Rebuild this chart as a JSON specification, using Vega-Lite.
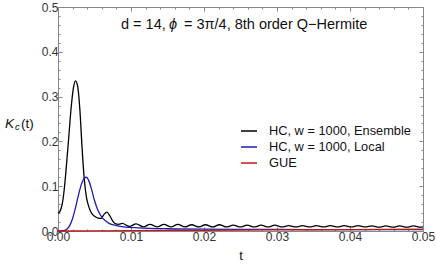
{
  "$schema": "https://vega.github.io/schema/vega-lite/v6.json",
  "width": 365,
  "height": 224,
  "autosize": {"type": "none"},
  "padding": {"left": 58, "top": 7, "right": 13, "bottom": 40},
  "background": "white",
  "config": {
    "view": {"stroke": "#888", "strokeWidth": 1},
    "font": "Liberation Sans",
    "axis": {"domain": false, "grid": false, "tickColor": "#888", "labelColor": "#333", "labelFont": "Liberation Sans", "labelFontSize": 12, "titleFont": "Liberation Sans", "titleFontWeight": "normal", "titleColor": "#111"},
    "legend": {"labelFont": "Liberation Sans", "labelFontSize": 12.8, "labelColor": "#111"}
  },
  "datasets": {
    "curves": [
      {"t": 0.0, "K": 0.040, "s": "HC, w = 1000, Ensemble"},
      {"t": 0.0003, "K": 0.045, "s": "HC, w = 1000, Ensemble"},
      {"t": 0.0006, "K": 0.062, "s": "HC, w = 1000, Ensemble"},
      {"t": 0.0009, "K": 0.100, "s": "HC, w = 1000, Ensemble"},
      {"t": 0.0012, "K": 0.155, "s": "HC, w = 1000, Ensemble"},
      {"t": 0.0015, "K": 0.215, "s": "HC, w = 1000, Ensemble"},
      {"t": 0.0018, "K": 0.275, "s": "HC, w = 1000, Ensemble"},
      {"t": 0.0021, "K": 0.318, "s": "HC, w = 1000, Ensemble"},
      {"t": 0.0024, "K": 0.335, "s": "HC, w = 1000, Ensemble"},
      {"t": 0.0027, "K": 0.322, "s": "HC, w = 1000, Ensemble"},
      {"t": 0.0030, "K": 0.270, "s": "HC, w = 1000, Ensemble"},
      {"t": 0.0033, "K": 0.185, "s": "HC, w = 1000, Ensemble"},
      {"t": 0.0036, "K": 0.115, "s": "HC, w = 1000, Ensemble"},
      {"t": 0.0039, "K": 0.075, "s": "HC, w = 1000, Ensemble"},
      {"t": 0.0042, "K": 0.055, "s": "HC, w = 1000, Ensemble"},
      {"t": 0.0046, "K": 0.040, "s": "HC, w = 1000, Ensemble"},
      {"t": 0.0050, "K": 0.033, "s": "HC, w = 1000, Ensemble"},
      {"t": 0.0055, "K": 0.029, "s": "HC, w = 1000, Ensemble"},
      {"t": 0.0059, "K": 0.028, "s": "HC, w = 1000, Ensemble"},
      {"t": 0.0063, "K": 0.037, "s": "HC, w = 1000, Ensemble"},
      {"t": 0.0067, "K": 0.042, "s": "HC, w = 1000, Ensemble"},
      {"t": 0.0071, "K": 0.034, "s": "HC, w = 1000, Ensemble"},
      {"t": 0.0075, "K": 0.022, "s": "HC, w = 1000, Ensemble"},
      {"t": 0.0079, "K": 0.016, "s": "HC, w = 1000, Ensemble"},
      {"t": 0.0083, "K": 0.015, "s": "HC, w = 1000, Ensemble"},
      {"t": 0.0088, "K": 0.017, "s": "HC, w = 1000, Ensemble"},
      {"t": 0.0098, "K": 0.010, "s": "HC, w = 1000, Ensemble"},
      {"t": 0.0107, "K": 0.016, "s": "HC, w = 1000, Ensemble"},
      {"t": 0.0117, "K": 0.009, "s": "HC, w = 1000, Ensemble"},
      {"t": 0.0126, "K": 0.015, "s": "HC, w = 1000, Ensemble"},
      {"t": 0.0136, "K": 0.009, "s": "HC, w = 1000, Ensemble"},
      {"t": 0.0145, "K": 0.015, "s": "HC, w = 1000, Ensemble"},
      {"t": 0.0155, "K": 0.009, "s": "HC, w = 1000, Ensemble"},
      {"t": 0.0164, "K": 0.015, "s": "HC, w = 1000, Ensemble"},
      {"t": 0.0174, "K": 0.009, "s": "HC, w = 1000, Ensemble"},
      {"t": 0.0183, "K": 0.014, "s": "HC, w = 1000, Ensemble"},
      {"t": 0.0193, "K": 0.009, "s": "HC, w = 1000, Ensemble"},
      {"t": 0.0202, "K": 0.014, "s": "HC, w = 1000, Ensemble"},
      {"t": 0.0212, "K": 0.009, "s": "HC, w = 1000, Ensemble"},
      {"t": 0.0221, "K": 0.014, "s": "HC, w = 1000, Ensemble"},
      {"t": 0.0231, "K": 0.009, "s": "HC, w = 1000, Ensemble"},
      {"t": 0.0240, "K": 0.013, "s": "HC, w = 1000, Ensemble"},
      {"t": 0.0250, "K": 0.009, "s": "HC, w = 1000, Ensemble"},
      {"t": 0.0259, "K": 0.013, "s": "HC, w = 1000, Ensemble"},
      {"t": 0.0269, "K": 0.009, "s": "HC, w = 1000, Ensemble"},
      {"t": 0.0278, "K": 0.013, "s": "HC, w = 1000, Ensemble"},
      {"t": 0.0288, "K": 0.009, "s": "HC, w = 1000, Ensemble"},
      {"t": 0.0297, "K": 0.013, "s": "HC, w = 1000, Ensemble"},
      {"t": 0.0307, "K": 0.009, "s": "HC, w = 1000, Ensemble"},
      {"t": 0.0316, "K": 0.012, "s": "HC, w = 1000, Ensemble"},
      {"t": 0.0326, "K": 0.009, "s": "HC, w = 1000, Ensemble"},
      {"t": 0.0335, "K": 0.012, "s": "HC, w = 1000, Ensemble"},
      {"t": 0.0345, "K": 0.009, "s": "HC, w = 1000, Ensemble"},
      {"t": 0.0354, "K": 0.012, "s": "HC, w = 1000, Ensemble"},
      {"t": 0.0364, "K": 0.009, "s": "HC, w = 1000, Ensemble"},
      {"t": 0.0373, "K": 0.012, "s": "HC, w = 1000, Ensemble"},
      {"t": 0.0383, "K": 0.009, "s": "HC, w = 1000, Ensemble"},
      {"t": 0.0392, "K": 0.012, "s": "HC, w = 1000, Ensemble"},
      {"t": 0.0402, "K": 0.009, "s": "HC, w = 1000, Ensemble"},
      {"t": 0.0411, "K": 0.012, "s": "HC, w = 1000, Ensemble"},
      {"t": 0.0421, "K": 0.009, "s": "HC, w = 1000, Ensemble"},
      {"t": 0.0430, "K": 0.0115, "s": "HC, w = 1000, Ensemble"},
      {"t": 0.0440, "K": 0.0085, "s": "HC, w = 1000, Ensemble"},
      {"t": 0.0449, "K": 0.0115, "s": "HC, w = 1000, Ensemble"},
      {"t": 0.0459, "K": 0.0085, "s": "HC, w = 1000, Ensemble"},
      {"t": 0.0468, "K": 0.0115, "s": "HC, w = 1000, Ensemble"},
      {"t": 0.0478, "K": 0.0085, "s": "HC, w = 1000, Ensemble"},
      {"t": 0.0487, "K": 0.0115, "s": "HC, w = 1000, Ensemble"},
      {"t": 0.0497, "K": 0.0085, "s": "HC, w = 1000, Ensemble"},
      {"t": 0.0500, "K": 0.009, "s": "HC, w = 1000, Ensemble"},
      {"t": 0.0, "K": 0.0, "s": "HC, w = 1000, Local"},
      {"t": 0.0008, "K": 0.001, "s": "HC, w = 1000, Local"},
      {"t": 0.0012, "K": 0.004, "s": "HC, w = 1000, Local"},
      {"t": 0.0016, "K": 0.012, "s": "HC, w = 1000, Local"},
      {"t": 0.0020, "K": 0.028, "s": "HC, w = 1000, Local"},
      {"t": 0.0024, "K": 0.052, "s": "HC, w = 1000, Local"},
      {"t": 0.0028, "K": 0.080, "s": "HC, w = 1000, Local"},
      {"t": 0.0032, "K": 0.104, "s": "HC, w = 1000, Local"},
      {"t": 0.0036, "K": 0.118, "s": "HC, w = 1000, Local"},
      {"t": 0.0039, "K": 0.120, "s": "HC, w = 1000, Local"},
      {"t": 0.0042, "K": 0.113, "s": "HC, w = 1000, Local"},
      {"t": 0.0046, "K": 0.093, "s": "HC, w = 1000, Local"},
      {"t": 0.0050, "K": 0.068, "s": "HC, w = 1000, Local"},
      {"t": 0.0055, "K": 0.045, "s": "HC, w = 1000, Local"},
      {"t": 0.0060, "K": 0.031, "s": "HC, w = 1000, Local"},
      {"t": 0.0065, "K": 0.023, "s": "HC, w = 1000, Local"},
      {"t": 0.0070, "K": 0.017, "s": "HC, w = 1000, Local"},
      {"t": 0.0080, "K": 0.012, "s": "HC, w = 1000, Local"},
      {"t": 0.0090, "K": 0.009, "s": "HC, w = 1000, Local"},
      {"t": 0.0110, "K": 0.007, "s": "HC, w = 1000, Local"},
      {"t": 0.0150, "K": 0.005, "s": "HC, w = 1000, Local"},
      {"t": 0.0200, "K": 0.004, "s": "HC, w = 1000, Local"},
      {"t": 0.0300, "K": 0.0035, "s": "HC, w = 1000, Local"},
      {"t": 0.0400, "K": 0.003, "s": "HC, w = 1000, Local"},
      {"t": 0.0500, "K": 0.003, "s": "HC, w = 1000, Local"},
      {"t": 0.0, "K": 0.0, "s": "GUE"},
      {"t": 0.0100, "K": 0.0008, "s": "GUE"},
      {"t": 0.0200, "K": 0.0016, "s": "GUE"},
      {"t": 0.0300, "K": 0.0024, "s": "GUE"},
      {"t": 0.0400, "K": 0.0032, "s": "GUE"},
      {"t": 0.0500, "K": 0.004, "s": "GUE"}
    ],
    "frame": [{"t": 0, "K": 0}],
    "title1": [{"t": 0.00863, "K": 0.46, "txt": "d = 14,"}],
    "title2": [{"t": 0.00863, "K": 0.46, "txt": "ϕ"}],
    "title3": [{"t": 0.00863, "K": 0.46, "txt": "= 3π/4, 8th order Q−Hermite"}],
    "ylab1": [{"t": 0, "K": 0.239, "txt": "K"}],
    "ylab2": [{"t": 0, "K": 0.239, "txt": "c"}],
    "ylab3": [{"t": 0, "K": 0.239, "txt": "(t)"}]
  },
  "resolve": {"axis": {"x": "independent", "y": "independent"}},
  "layer": [
    {
      "data": {"name": "curves"},
      "mark": {"type": "line", "strokeWidth": 1.3, "interpolate": "monotone"},
      "encoding": {
        "x": {"field": "t", "type": "quantitative", "scale": {"domain": [0, 0.05], "nice": false, "zero": false},
          "axis": {"orient": "bottom", "title": "t", "titleFontSize": 13, "titlePadding": 7,
            "values": [0,0.002,0.004,0.006,0.008,0.01,0.012,0.014,0.016,0.018,0.02,0.022,0.024,0.026,0.028,0.03,0.032,0.034,0.036,0.038,0.04,0.042,0.044,0.046,0.048,0.05],
            "labelExpr": "abs(datum.value*100 - round(datum.value*100)) < 0.001 ? format(datum.value, '.2f') : ''",
            "tickSize": {"condition": {"test": "abs(datum.value*100 - round(datum.value*100)) < 0.001", "value": -4}, "value": -2},
            "labelPadding": 4, "labelFlush": false}},
        "y": {"field": "K", "type": "quantitative", "scale": {"domain": [0, 0.5], "nice": false},
          "axis": {"orient": "left", "title": null,
            "values": [0,0.02,0.04,0.06,0.08,0.1,0.12,0.14,0.16,0.18,0.2,0.22,0.24,0.26,0.28,0.3,0.32,0.34,0.36,0.38,0.4,0.42,0.44,0.46,0.48,0.5],
            "labelExpr": "abs(datum.value*10 - round(datum.value*10)) < 0.001 ? format(datum.value, '.1f') : ''",
            "tickSize": {"condition": {"test": "abs(datum.value*10 - round(datum.value*10)) < 0.001", "value": -4}, "value": -2},
            "labelPadding": 4, "labelFlush": false}},
        "color": {"field": "s", "type": "nominal",
          "scale": {"domain": ["HC, w = 1000, Ensemble", "HC, w = 1000, Local", "GUE"], "range": ["#000000", "#1c1cb0", "#c01818"]},
          "legend": {"title": null, "orient": "none", "legendX": 182, "legendY": 115, "symbolType": "stroke", "symbolSize": 256, "symbolStrokeWidth": 1.5, "labelOffset": 11, "rowPadding": 0, "padding": 0}},
        "order": {"field": "t", "type": "quantitative"}
      }
    },
    {
      "data": {"name": "frame"},
      "mark": {"type": "point", "opacity": 0},
      "encoding": {
        "x": {"field": "t", "type": "quantitative",
          "axis": {"orient": "top", "title": null, "labels": false,
            "values": [0,0.002,0.004,0.006,0.008,0.01,0.012,0.014,0.016,0.018,0.02,0.022,0.024,0.026,0.028,0.03,0.032,0.034,0.036,0.038,0.04,0.042,0.044,0.046,0.048,0.05],
            "tickSize": {"condition": {"test": "abs(datum.value*100 - round(datum.value*100)) < 0.001", "value": -4}, "value": -2}}},
        "y": {"field": "K", "type": "quantitative",
          "axis": {"orient": "right", "title": null, "labels": false,
            "values": [0,0.02,0.04,0.06,0.08,0.1,0.12,0.14,0.16,0.18,0.2,0.22,0.24,0.26,0.28,0.3,0.32,0.34,0.36,0.38,0.4,0.42,0.44,0.46,0.48,0.5],
            "tickSize": {"condition": {"test": "abs(datum.value*10 - round(datum.value*10)) < 0.001", "value": -4}, "value": -2}}}
      }
    },
    {
      "data": {"name": "title1"},
      "mark": {"type": "text", "align": "left", "baseline": "middle", "fontSize": 14.5, "color": "#111"},
      "encoding": {"x": {"field": "t", "type": "quantitative", "axis": null}, "y": {"field": "K", "type": "quantitative", "axis": null}, "text": {"field": "txt"}}
    },
    {
      "data": {"name": "title2"},
      "mark": {"type": "text", "align": "left", "baseline": "middle", "fontSize": 14.5, "fontStyle": "italic", "dx": 48, "color": "#111"},
      "encoding": {"x": {"field": "t", "type": "quantitative", "axis": null}, "y": {"field": "K", "type": "quantitative", "axis": null}, "text": {"field": "txt"}}
    },
    {
      "data": {"name": "title3"},
      "mark": {"type": "text", "align": "left", "baseline": "middle", "fontSize": 14.5, "dx": 63, "color": "#111"},
      "encoding": {"x": {"field": "t", "type": "quantitative", "axis": null}, "y": {"field": "K", "type": "quantitative", "axis": null}, "text": {"field": "txt"}}
    },
    {
      "data": {"name": "ylab1"},
      "mark": {"type": "text", "align": "left", "baseline": "middle", "fontSize": 13.5, "fontStyle": "italic", "dx": -53, "color": "#111"},
      "encoding": {"x": {"field": "t", "type": "quantitative", "axis": null}, "y": {"field": "K", "type": "quantitative", "axis": null}, "text": {"field": "txt"}}
    },
    {
      "data": {"name": "ylab2"},
      "mark": {"type": "text", "align": "left", "baseline": "middle", "fontSize": 9.5, "fontStyle": "italic", "dx": -43, "dy": 3, "color": "#111"},
      "encoding": {"x": {"field": "t", "type": "quantitative", "axis": null}, "y": {"field": "K", "type": "quantitative", "axis": null}, "text": {"field": "txt"}}
    },
    {
      "data": {"name": "ylab3"},
      "mark": {"type": "text", "align": "left", "baseline": "middle", "fontSize": 13.5, "dx": -37, "color": "#111"},
      "encoding": {"x": {"field": "t", "type": "quantitative", "axis": null}, "y": {"field": "K", "type": "quantitative", "axis": null}, "text": {"field": "txt"}}
    }
  ]
}
